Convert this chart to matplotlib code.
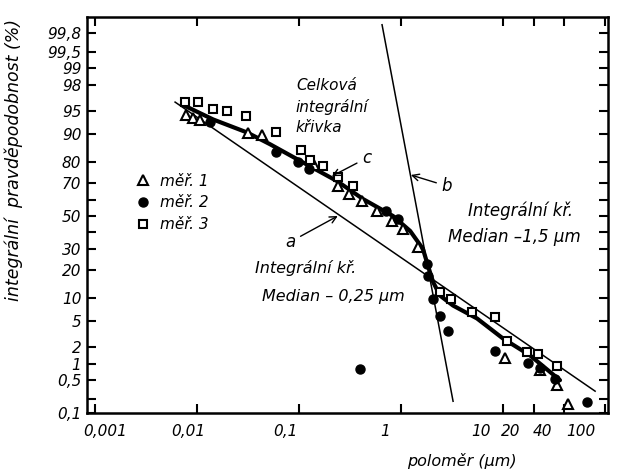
import numpy as np
import matplotlib
matplotlib.use('Agg')
from matplotlib import pyplot as plt
from matplotlib import transforms
from statistics import NormalDist

plt.rcParams['font.family'] = ['DejaVu Sans']
plt.rcParams['font.style'] = 'italic'

# mer. 1 (triangles)
x_m1 = [0.0078, 0.0091, 0.0107, 0.0316, 0.0434, 0.140, 0.241, 0.309, 0.415, 0.582,
        0.816, 1.05, 1.47, 10.5, 23.1, 33.8, 43.4]
y_m1 = [94.3, 93.7, 93.3, 90.3, 89.7, 78.7, 68.0, 63.4, 59.3, 53.1,
        46.9, 42.0, 31.4, 1.27, 0.77, 0.40, 0.16]

# mer. 2 (filled circles)
x_m2 = [0.0134, 0.0595, 0.0977, 0.125, 0.713, 0.935, 1.80, 1.84, 2.06, 2.41,
        2.89, 0.396, 8.35, 17.6, 23.1, 32.4, 66.6]
y_m2 = [92.9, 84.1, 80.0, 76.9, 53.1, 48.1, 22.7, 17.4, 9.7, 5.9,
        3.6, 0.81, 1.68, 1.04, 0.84, 0.54, 0.175]

# mer. 3 (open squares)
x_m3 = [0.0076, 0.0102, 0.0144, 0.0197, 0.0302, 0.0595, 0.105, 0.128, 0.172, 0.241,
        0.338, 2.41, 3.09, 4.97, 8.35, 10.9, 17.2, 22.0, 33.8]
y_m3 = [96.3, 96.3, 95.4, 95.1, 94.1, 90.5, 84.9, 80.9, 78.3, 72.9,
        68.0, 11.8, 9.7, 6.7, 5.7, 2.45, 1.62, 1.50, 0.92]

# curve c (celkova integralni krivka)
x_c = [0.0071, 0.0144, 0.0309, 0.0519, 0.109, 0.236, 0.424, 0.835, 1.23, 1.64,
       1.84, 2.06, 2.41, 3.24, 5.56, 10.0, 18.4, 36.2]
y_c = [96.0, 93.5, 90.5, 87.0, 80.0, 70.8, 60.5, 50.0, 40.7, 30.3,
       21.7, 15.1, 10.6, 8.0, 5.4, 2.73, 1.44, 0.50]

# line a (median 0.25 um) and line b (median 1.5 um)
x_a = [0.0061, 80.0]
y_a = [96.3, 0.30]
x_b = [0.652, 3.24]
y_b = [99.865, 0.183]

x_ticks = [0.001, 0.01, 0.1, 1, 10, 20, 40, 100]
x_labels = ['0,001', '0,01', '0,1', '1', '10', '20', '40', '100']
y_ticks = [0.1, 0.2, 0.5, 1, 2, 5, 10, 20, 30, 40, 50, 60, 70, 80, 90, 95, 98, 99, 99.5, 99.8]
y_labels = ['0,1', '', '0,5', '1', '2', '5', '10', '20', '30', '', '50', '', '70', '80',
            '90', '95', '98', '99', '99,5', '99,8']

nd = NormalDist()
ppf = np.vectorize(nd.inv_cdf, otypes=[float])
cdf = np.vectorize(nd.cdf, otypes=[float])


def forward(p):
    p = np.clip(np.asarray(p, dtype=float) / 100.0, 1e-9, 1 - 1e-9)
    return ppf(p)


def inverse(z):
    return cdf(np.asarray(z, dtype=float)) * 100.0


fig = plt.figure(figsize=(6.24, 4.72), dpi=100)
ax = fig.add_axes([87 / 624, 59 / 472, 521 / 624, 396 / 472])
ax.set_xscale('log')
ax.set_yscale('function', functions=(forward, inverse))
ax.set_xlim(0.000835, 107)
ax.set_ylim(0.1, 99.91)

ax.plot(x_a, y_a, color='black', lw=1.1)
ax.plot(x_b, y_b, color='black', lw=1.1)
ax.plot(x_c, y_c, color='black', lw=3.0, solid_capstyle='round')

ax.plot(x_m1, y_m1, ls='none', marker='^', ms=6.5, mfc='white', mec='black', mew=1.5, label='měř. 1')
ax.plot(x_m2, y_m2, ls='none', marker='o', ms=6.5, mfc='black', mec='black', label='měř. 2')
ax.plot(x_m3, y_m3, ls='none', marker='s', ms=5.5, mfc='white', mec='black', mew=1.5, label='měř. 3')

ax.legend(loc='upper left', bbox_to_anchor=(0.079, 0.624), frameon=False, fontsize=11,
          handlelength=1.0, handletextpad=0.6, labelspacing=0.45, borderpad=0)

ax.set_xticks(x_ticks)
ax.set_xticklabels(x_labels)
ax.xaxis.set_minor_locator(matplotlib.ticker.NullLocator())
ax.set_yticks(y_ticks)
ax.set_yticklabels(y_labels)
ax.yaxis.set_minor_locator(matplotlib.ticker.NullLocator())
ax.tick_params(which='both', direction='in', top=True, right=True, length=6.5, width=1.5,
               labelsize=11)
ax.tick_params(axis='x', pad=8)
ax.tick_params(axis='y', pad=4)

# hand lettered labels sit a bit left of their ticks
shifts = [10, -9, -14, -16, -22, -23, -22, -24]
for lab, dx in zip(ax.get_xticklabels(), shifts):
    lab.set_transform(lab.get_transform() + transforms.ScaledTranslation(dx / 100, 0, fig.dpi_scale_trans))

for sp in ax.spines.values():
    sp.set_linewidth(1.8)

ax.set_ylabel('integrální  pravděpodobnost (%)', fontsize=12.5)
ax.yaxis.set_label_coords(-0.122, 0.64)
ax.set_xlabel('poloměr (μm)', fontsize=11.5)
ax.xaxis.set_label_coords(0.72, -0.102)

ax.text(0.401, 0.846, 'Celková\nintegrální\nkřivka', transform=ax.transAxes,
        ha='left', va='top', fontsize=11, linespacing=1.45)
ax.text(0.420, 0.366, 'Integrální kř.', transform=ax.transAxes, ha='center', va='center', fontsize=11.5)
ax.text(0.472, 0.295, 'Median – 0,25 μm', transform=ax.transAxes, ha='center', va='center', fontsize=11.5)
ax.text(0.833, 0.510, 'Integrální kř.', transform=ax.transAxes, ha='center', va='center', fontsize=12)
ax.text(0.820, 0.444, 'Median –1,5 μm', transform=ax.transAxes, ha='center', va='center', fontsize=12)

arrow = dict(arrowstyle='->', color='black', lw=1.0, shrinkA=2, shrinkB=0)
ax.annotate('c', xy=(0.21, 73.4), xytext=(0.537, 0.644), textcoords='axes fraction',
            ha='center', va='center', fontsize=12, arrowprops=arrow)
ax.annotate('a', xy=(0.24, 50.0), xytext=(0.390, 0.432), textcoords='axes fraction',
            ha='center', va='center', fontsize=12, arrowprops=arrow)
ax.annotate('b', xy=(1.25, 74.0), xytext=(0.691, 0.573), textcoords='axes fraction',
            ha='center', va='center', fontsize=12, arrowprops=arrow)

fig.savefig('out.png', dpi=100)
